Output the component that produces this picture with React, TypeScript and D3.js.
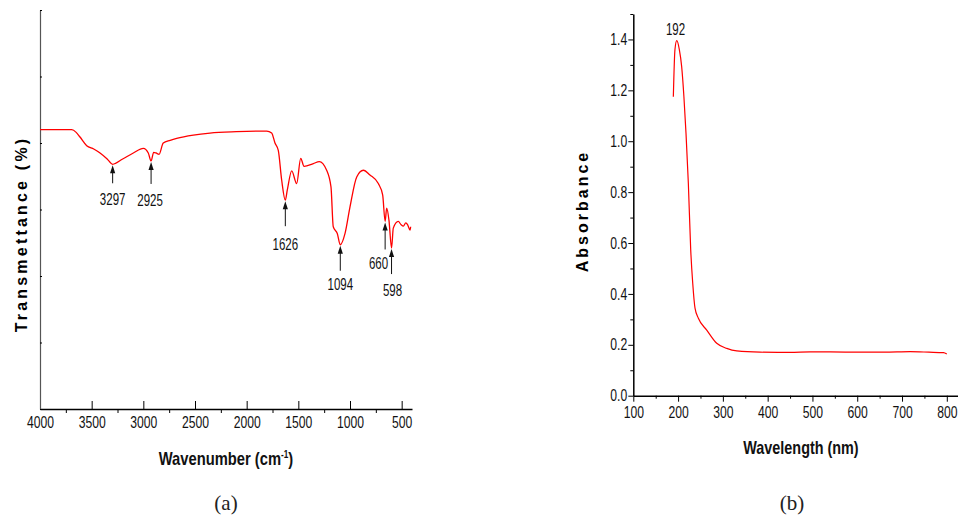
import React, { useEffect, useRef } from "react";
import * as d3 from "d3";

// (a) FTIR spectrum
const irWavenumber = [4000, 3693, 3650, 3613, 3548, 3480, 3419, 3350, 3297, 3200, 3097, 3000, 2952, 2925, 2900, 2877, 2848, 2807, 2740, 2677, 2516, 2355, 2100, 1806, 1758, 1726, 1694, 1661, 1626, 1607, 1564, 1516, 1477, 1445, 1355, 1297, 1226, 1184, 1162, 1123, 1094, 1048, 1000, 935, 871, 807, 726, 684, 660, 645, 623, 598, 581, 533, 505, 484, 460, 442, 419, 413];
const irTransmittance = [42.0, 42.0, 41.6, 40.9, 39.6, 39.1, 38.5, 37.6, 36.8, 37.6, 38.5, 39.2, 38.5, 37.3, 38.6, 38.5, 38.3, 40.0, 40.4, 40.7, 41.2, 41.5, 41.7, 41.8, 41.5, 40.0, 38.9, 34.4, 31.4, 32.9, 35.8, 33.9, 37.7, 36.5, 36.9, 37.2, 35.9, 33.4, 27.4, 26.4, 24.7, 26.4, 30.4, 34.9, 35.9, 35.2, 33.9, 32.2, 28.2, 30.2, 28.4, 24.2, 27.2, 28.2, 27.7, 27.5, 28.0, 27.7, 26.9, 27.4];
const irPeaks = [3297, 2925, 1626, 1094, 660, 598];
const irTicks = [4000, 3500, 3000, 2500, 2000, 1500, 1000, 500];

// (b) UV-Vis spectrum
const uvWavelength = [189.4, 193, 197, 202.8, 208, 213, 217.7, 222.9, 228.2, 232.7, 237.8, 245.3, 264, 286.3, 308.7, 331, 383, 450, 495, 540, 606, 660, 718, 760, 792.6, 800];
const uvAbsorbance = [1.175, 1.36, 1.395, 1.36, 1.293, 1.175, 1.031, 0.835, 0.573, 0.442, 0.344, 0.304, 0.258, 0.206, 0.186, 0.176, 0.171, 0.170, 0.172, 0.172, 0.171, 0.171, 0.173, 0.171, 0.169, 0.164];
const uvPeak = 192;
const uvTicksX = [100, 200, 300, 400, 500, 600, 700, 800];
const uvTicksY = [0, 0.2, 0.4, 0.6, 0.8, 1.0, 1.2, 1.4];

const sans = "'Liberation Sans', Arial, sans-serif";

export default function App() {
  const svgRef = useRef<SVGSVGElement>(null);

  useEffect(() => {
    const svg = d3.select(svgRef.current);
    svg.selectAll("*").remove();

    // narrow-looking text: squeeze horizontally about its anchor point
    const label = (g: any, x: number, y: number, s: string, size: number, anchor = "middle", bold = false, sx = 0.8) =>
      g.append("text")
        .attr("transform", `translate(${x},${y}) scale(${sx},1)`)
        .attr("text-anchor", anchor)
        .attr("font-family", sans)
        .attr("font-size", size)
        .attr("font-weight", bold ? "bold" : "normal")
        .attr("fill", "#111")
        .text(s);

    // ---------- left panel ----------
    const x1 = d3.scaleLinear().domain([4000, 400]).range([40, 412]);
    const y1 = d3.scaleLinear().domain([0, 60]).range([409, 10]);
    const g1 = svg.append("g");

    // minor x ticks (outside)
    g1.append("g")
      .attr("transform", "translate(0,409)")
      .call(d3.axisBottom(x1).tickValues(irTicks.map((d) => d - 250).filter((d) => d > 400)).tickSize(4).tickFormat(() => ""))
      .call((g) => g.select(".domain").remove());
    // major x ticks (inside) with labels
    const ax1 = g1.append("g")
      .attr("transform", "translate(0,409)")
      .call(d3.axisBottom(x1).tickValues(irTicks).tickSizeInner(-8).tickSizeOuter(0).tickPadding(8).tickFormat(d3.format("d")));
    ax1.selectAll("text").attr("font-size", 16).attr("font-family", sans).attr("fill", "#111").attr("transform", "scale(0.76,1)");
    ax1.select(".domain").attr("stroke-width", 1.5);

    // y axis, unlabeled
    const ay1 = g1.append("g")
      .attr("transform", "translate(40,0)")
      .call(d3.axisRight(y1).tickValues(d3.range(0, 61, 10)).tickSize(2).tickSizeOuter(0).tickFormat(() => ""));
    ay1.select(".domain").attr("stroke", "#555").attr("stroke-width", 1.2);

    const irData = irWavenumber.map((w, i) => [w, irTransmittance[i]] as [number, number]);
    g1.append("path")
      .datum(irData)
      .attr("fill", "none")
      .attr("stroke", "#ff0000")
      .attr("stroke-width", 1.3)
      .attr("d", d3.line<[number, number]>().x((d) => x1(d[0])).y((d) => y1(d[1])).curve(d3.curveMonotoneX));

    // peak arrows
    const arrowLayout: Record<number, { len: number; lx: number; ly: number; anchor: string }> = {
      3297: { len: 18, lx: 0, ly: 22, anchor: "middle" },
      2925: { len: 22, lx: -1, ly: 22, anchor: "middle" },
      1626: { len: 25, lx: 0, ly: 24, anchor: "middle" },
      1094: { len: 25, lx: 0, ly: 19, anchor: "middle" },
      660: { len: 27, lx: 3, ly: 20, anchor: "end" },
      598: { len: 25, lx: 1, ly: 22, anchor: "middle" },
    };
    irPeaks.forEach((p) => {
      const idx = irWavenumber.indexOf(p);
      const px = x1(p);
      const tip = y1(irTransmittance[idx]) + 1;
      const L = arrowLayout[p];
      const bottom = tip + L.len;
      g1.append("line").attr("x1", px).attr("x2", px).attr("y1", tip + 5).attr("y2", bottom).attr("stroke", "#111").attr("stroke-width", 1);
      g1.append("path").attr("d", `M${px},${tip} L${px - 2.6},${tip + 8} L${px + 2.6},${tip + 8} Z`).attr("fill", "#111");
      label(g1, px + L.lx, bottom + L.ly, String(p), 16, L.anchor, false, 0.72);
    });

    const xt1 = label(g1, 226, 465, "", 18, "middle", true, 0.82);
    xt1.append("tspan").text("Wavenumber (cm");
    xt1.append("tspan").attr("dy", -7).attr("font-size", 10).text("-1");
    xt1.append("tspan").attr("dy", 7).text(")");

    g1.append("text")
      .attr("transform", "translate(27,234) rotate(-90)")
      .attr("text-anchor", "middle")
      .attr("font-family", sans).attr("font-weight", "bold").attr("font-size", 16)
      .attr("letter-spacing", 3.2)
      .text("Transmettance (%)");

    // ---------- right panel ----------
    const x2 = d3.scaleLinear().domain([100, 825]).range([633.3, 958]);
    const y2 = d3.scaleLinear().domain([0, 1.5]).range([395.7, 14]);
    const g2 = svg.append("g");

    g2.append("g")
      .attr("transform", "translate(0,395.7)")
      .call(d3.axisBottom(x2).tickValues(uvTicksX.map((d) => d + 50)).tickSize(3).tickFormat(() => ""))
      .call((g) => g.select(".domain").remove());
    const ax2 = g2.append("g")
      .attr("transform", "translate(0,395.7)")
      .call(d3.axisBottom(x2).tickValues(uvTicksX).tickSizeInner(6).tickSizeOuter(0).tickPadding(5).tickFormat(d3.format("d")));
    ax2.selectAll("text").attr("font-size", 16).attr("font-family", sans).attr("fill", "#111").attr("transform", "scale(0.76,1)");
    ax2.select(".domain").attr("stroke-width", 1.5);

    g2.append("g")
      .attr("transform", "translate(633.3,0)")
      .call(d3.axisLeft(y2).tickValues(uvTicksY.map((d) => d + 0.1)).tickSize(3).tickFormat(() => ""))
      .call((g) => g.select(".domain").remove());
    const ay2 = g2.append("g")
      .attr("transform", "translate(633.3,0)")
      .call(d3.axisLeft(y2).tickValues(uvTicksY).tickSizeInner(5).tickSizeOuter(0).tickPadding(3).tickFormat(d3.format(".1f")));
    ay2.selectAll("text").attr("font-size", 16).attr("font-family", sans).attr("fill", "#111").attr("transform", "scale(0.76,1)");
    ay2.select(".domain").attr("stroke-width", 1.5);

    const uvData = uvWavelength.map((w, i) => [w, uvAbsorbance[i]] as [number, number]);
    g2.append("path")
      .datum(uvData)
      .attr("fill", "none")
      .attr("stroke", "#ff0000")
      .attr("stroke-width", 1.2)
      .attr("d", d3.line<[number, number]>().x((d) => x2(d[0])).y((d) => y2(d[1])).curve(d3.curveMonotoneX));

    label(g2, x2(uvPeak) + 1, 35, String(uvPeak), 16, "middle", false, 0.72);

    label(g2, 801, 454, "Wavelength (nm)", 18, "middle", true, 0.8);
    g2.append("text")
      .attr("transform", "translate(588,211) rotate(-90)")
      .attr("text-anchor", "middle")
      .attr("font-family", sans).attr("font-weight", "bold").attr("font-size", 16)
      .attr("letter-spacing", 3)
      .text("Absorbance");

    // captions
    const cap = (x: number, s: string) =>
      svg.append("text").attr("x", x).attr("y", 510).attr("text-anchor", "middle")
        .attr("font-family", "'Liberation Serif', 'DejaVu Serif', serif").attr("font-size", 21).attr("fill", "#222").text(s);
    cap(226, "(a)");
    cap(792, "(b)");
  }, []);

  return (
    <svg ref={svgRef} width={958} height={517} style={{ position: "absolute", left: 0, top: 0, background: "#fff" }} />
  );
}
